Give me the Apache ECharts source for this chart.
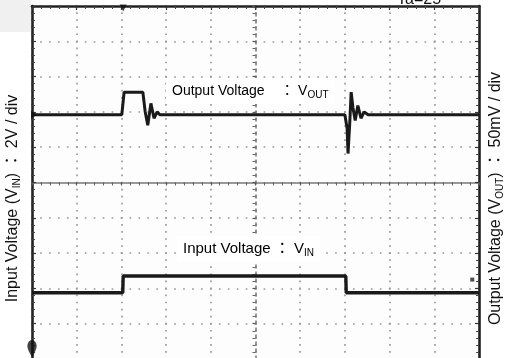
<!DOCTYPE html>
<html>
<head>
<meta charset="utf-8">
<script src="https://cdn.jsdelivr.net/npm/echarts@6/dist/echarts.min.js"></script>
<style>
html, body { margin: 0; padding: 0; background: #fff; }
#chart { width: 507px; height: 358px; }
</style>
</head>
<body>
<div id="chart"></div>
<script>
// Horizontal position is given in screen divisions from the centre graticule line (10 divisions across).
const vinTime  = [-5, -2.97, -2.96, 2.02, 2.03, 5];
const vinVolts = [3.15, 3.15, 4.1, 4.1, 3.15, 3.15];

const voutTime       = [-5, -2.99, -2.94, -2.52, -2.47, -2.41, -2.34, -2.27, -2.20, -2.14, 2.00, 2.05, 2.07, 2.11, 2.14, 2.18, 2.23, 2.29, 2.36, 2.43, 2.52, 5];
const voutMilliVolts = [0, 0, 32, 32, 5, -15, 16, -5, 4, 0, 0, -20, -55, -10, 32, 10, -8, 13, -5, 4, 0, 0];

// Channel reference markers and trigger settings
const vinGroundVolts = 0;
const voutRefMilliVolts = 0;
const triggerTime = -2.96;
const triggerLevelVolts = 3.9;
const triggerLevelTime = 4.85;

// Vertical scales
const vinPerDiv = 2;      // V/div
const voutPerDiv = 50;    // mV/div
const vinZeroDiv = -4.7;  // CH1 ground level, divisions from centre
const voutZeroDiv = 1.92; // CH2 reference level, divisions from centre
const halfDivs = 5;

const FONT = '"Liberation Sans", Arial, "Noto Sans CJK JP", sans-serif';
const INK = '#1a1a1a';

const richLabel = (size) => ({
  m: { fontFamily: FONT, fontSize: size, color: '#111', lineHeight: 18 },
  s: { fontFamily: FONT, fontSize: 10, color: '#111', lineHeight: 9, verticalAlign: 'bottom' }
});
const richName = {
  m: { fontFamily: FONT, fontSize: 16, color: '#111', lineHeight: 19 },
  s: { fontFamily: FONT, fontSize: 10, color: '#111', lineHeight: 9, verticalAlign: 'bottom' }
};

const zip = (a, b) => a.map((v, i) => [v, b[i]]);

const dottedGrid = (gap) => ({
  show: true,
  lineStyle: { color: '#9a9a9a', width: 1.7, type: [1.7, gap - 1.7], dashOffset: 0.85 }
});

const frameAxis = {
  type: 'value', min: -halfDivs, max: halfDivs, interval: 1,
  axisLine: { show: true, onZero: false, lineStyle: { color: '#222', width: 2.6 } },
  axisTick: { show: true, inside: true, length: 4, lineStyle: { color: '#333', width: 1.2 } },
  minorTick: { show: true, splitNumber: 5, length: 3, lineStyle: { color: '#444', width: 1 } },
  axisLabel: { show: false },
  splitLine: { show: false }
};

// Channel-1 ground marker: round head with a point underneath
const groundPin = 'path://M0,5 A5,5 0 1,1 10,5 Q10,8 5,14 Q0,8 0,5 Z';

const chart = echarts.init(document.getElementById('chart'), null, { renderer: 'canvas' });

chart.setOption({
  animation: false,
  backgroundColor: '#fff',
  grid: {
    left: 32, right: 28, top: 6, bottom: -1,
    outerBoundsMode: 'none', containLabel: false,
    show: true, backgroundColor: '#fdfdfd', borderWidth: 0
  },
  xAxis: [
    {
      type: 'value', min: -halfDivs, max: halfDivs, interval: 1,
      axisLine: { show: true, onZero: true, onZeroAxisIndex: 0, lineStyle: { color: '#7a7a7a', width: 1.5 } },
      axisTick: { show: true, length: 3, lineStyle: { color: '#555', width: 1.2 } },
      minorTick: { show: true, splitNumber: 5, length: 3, lineStyle: { color: '#666', width: 1 } },
      axisLabel: { show: false },
      splitLine: dottedGrid(353 / 10 / 5)
    },
    Object.assign({}, frameAxis, { position: 'top' })
  ],
  yAxis: [
    {
      type: 'value', min: -halfDivs, max: halfDivs, interval: 1,
      axisLine: { show: true, onZero: true, onZeroAxisIndex: 0, lineStyle: { color: '#777', width: 1.5, type: [3, 4] } },
      axisTick: { show: true, length: 3, lineStyle: { color: '#555', width: 1.2 } },
      minorTick: { show: true, splitNumber: 5, length: 3, lineStyle: { color: '#666', width: 1 } },
      axisLabel: { show: false },
      splitLine: dottedGrid(447 / 10 / 5)
    },
    Object.assign({}, frameAxis, {
      position: 'left',
      name: '{m|Input Voltage (V}{s|IN}{m|) ： 2V / div}',
      nameLocation: 'middle', nameRotate: 90, nameGap: 10,
      nameTextStyle: { rich: richName, padding: [0, 32, 0, 0] }
    }),
    Object.assign({}, frameAxis, {
      position: 'right',
      name: '{m|Output Voltage (V}{s|OUT}{m|) ： 50mV / div}',
      nameLocation: 'middle', nameRotate: 90, nameGap: 7,
      nameTextStyle: { rich: richName, padding: [0, 32, 0, 0] }
    }),
    {
      type: 'value', show: false,
      min: (-halfDivs - vinZeroDiv) * vinPerDiv,
      max: (halfDivs - vinZeroDiv) * vinPerDiv
    },
    {
      type: 'value', show: false,
      min: (-halfDivs - voutZeroDiv) * voutPerDiv,
      max: (halfDivs - voutZeroDiv) * voutPerDiv
    }
  ],
  graphic: [
    { type: 'rect', shape: { x: 0, y: 0, width: 31, height: 32 }, style: { fill: '#f0f0f0' }, z: -1 },
    {
      type: 'text', x: 397, y: 8,
      style: { text: 'Ta=25', font: '16px ' + FONT, fill: '#111', verticalAlign: 'bottom' }
    },
    {
      type: 'text', x: 166, y: 91, z: 50,
      style: {
        text: '{m|Output Voltage    ： V}{s|OUT}', rich: richLabel(14),
        verticalAlign: 'middle', backgroundColor: '#fff', padding: [4, 6, 4, 6]
      }
    },
    {
      type: 'text', x: 177, y: 249, z: 50,
      style: {
        text: '{m|Input Voltage ： V}{s|IN}', rich: richLabel(15),
        verticalAlign: 'middle', backgroundColor: '#fff', padding: [4, 6, 4, 6]
      }
    }
  ],
  series: [
    {
      name: 'VIN', type: 'line', xAxisIndex: 0, yAxisIndex: 3,
      data: zip(vinTime, vinVolts), showSymbol: false, z: 20,
      lineStyle: { color: INK, width: 3.4 }
    },
    {
      name: 'VOUT', type: 'line', xAxisIndex: 0, yAxisIndex: 4,
      data: zip(voutTime, voutMilliVolts), showSymbol: false, z: 20,
      lineStyle: { color: INK, width: 3 }
    },
    {
      name: 'CH1 ground', type: 'scatter', xAxisIndex: 0, yAxisIndex: 3, clip: false, z: 30,
      data: [[-halfDivs, vinGroundVolts]], symbol: groundPin, symbolKeepAspect: true, symbolSize: [13, 17],
      symbolOffset: [0, 0], itemStyle: { color: '#111' }
    },
    {
      name: 'CH2 reference', type: 'scatter', xAxisIndex: 0, yAxisIndex: 4, clip: false, z: 30,
      data: [[-halfDivs, voutRefMilliVolts]], symbol: 'triangle', symbolRotate: -90, symbolSize: [8, 6],
      symbolOffset: [2, 0], itemStyle: { color: '#111' }
    },
    {
      name: 'Trigger position', type: 'scatter', xAxisIndex: 0, yAxisIndex: 0, clip: false, z: 30,
      data: [[triggerTime, halfDivs]], symbol: 'triangle', symbolRotate: 180, symbolSize: [7, 7],
      symbolOffset: [0, 2], itemStyle: { color: '#111' }
    },
    {
      name: 'Trigger level', type: 'scatter', xAxisIndex: 0, yAxisIndex: 3, clip: false, z: 30,
      data: [[triggerLevelTime, triggerLevelVolts]], symbol: 'rect', symbolSize: 4,
      itemStyle: { color: '#222' }
    }
  ]
});
</script>
</body>
</html>
